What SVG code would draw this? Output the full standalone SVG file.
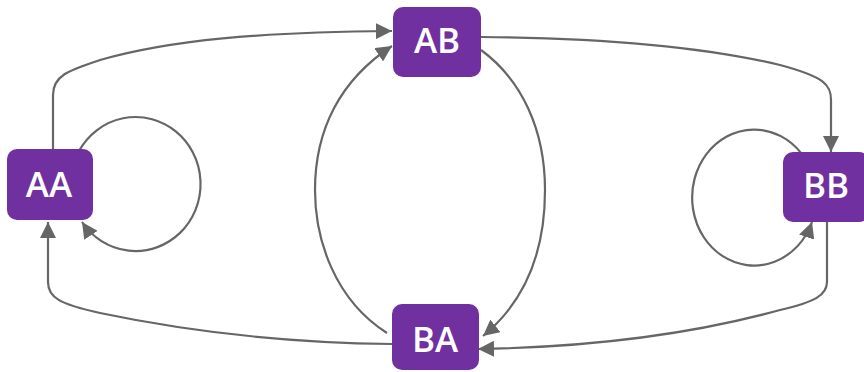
<svg xmlns="http://www.w3.org/2000/svg" width="864" height="372" viewBox="0 0 864 372">
  <style>
    .node rect { fill: #7030A0; }
    .node text { fill: #ffffff; font-family: "Open Sans", "Liberation Sans", sans-serif; font-size: 35px; font-weight: 600; text-anchor: middle; }
    .edge { fill: none; stroke: #666666; stroke-width: 2.2; marker-end: url(#arrow); }
  </style>
  <defs>
    <marker id="arrow" markerUnits="userSpaceOnUse" viewBox="0 0 16 16" refX="16" refY="8" markerWidth="16" markerHeight="16" orient="auto">
      <path d="M0,0 L16,8 L0,16 z" fill="#666666"/>
    </marker>
  </defs>
  <rect width="864" height="372" fill="#ffffff"/>

  <g id="connectors">
    <!-- AA -> AB -->
    <path class="edge" d="M53,149 L53,95 C53,75 70,70 100,60 C170,40 260,32 392,31"/>
    <!-- AB -> BB -->
    <path class="edge" d="M481,37 C600,38 700,46 780,65 C825,77 831,85 831,100 L831,152"/>
    <!-- BB -> BA -->
    <path class="edge" d="M827,222 L827,282 C827,295 815,302 780,310 C700,332 600,347 478,349"/>
    <!-- BA -> AA -->
    <path class="edge" d="M392,344 C300,343 200,334 100,313 C60,304 48,298 48,282 L48,222"/>
    <!-- AA self-loop -->
    <path class="edge" d="M79,151 A65,67 0 1 1 82,222"/>
    <!-- BB self-loop -->
    <path class="edge" d="M801,153 A62,68 0 1 0 812,222"/>
    <!-- BA -> AB -->
    <path class="edge" d="M387,333 C335,300 315,240 315,190 C315,130 340,80 392,46"/>
    <!-- AB -> BA -->
    <path class="edge" d="M481,50 C522,80 545,130 545,190 C545,250 527,300 483,336"/>
  </g>

  <g id="AA" class="node">
    <rect x="7" y="149" width="86" height="71" rx="10"/>
    <text x="49" y="197">AA</text>
  </g>
  <g id="AB" class="node">
    <rect x="393" y="7" width="88" height="70" rx="10"/>
    <text x="437" y="53">AB</text>
  </g>
  <g id="BA" class="node">
    <rect x="392" y="304" width="87" height="66" rx="10"/>
    <text x="435" y="352">BA</text>
  </g>
  <g id="BB" class="node">
    <rect x="783" y="152" width="86" height="70" rx="10"/>
    <text x="826" y="198">BB</text>
  </g>
</svg>
